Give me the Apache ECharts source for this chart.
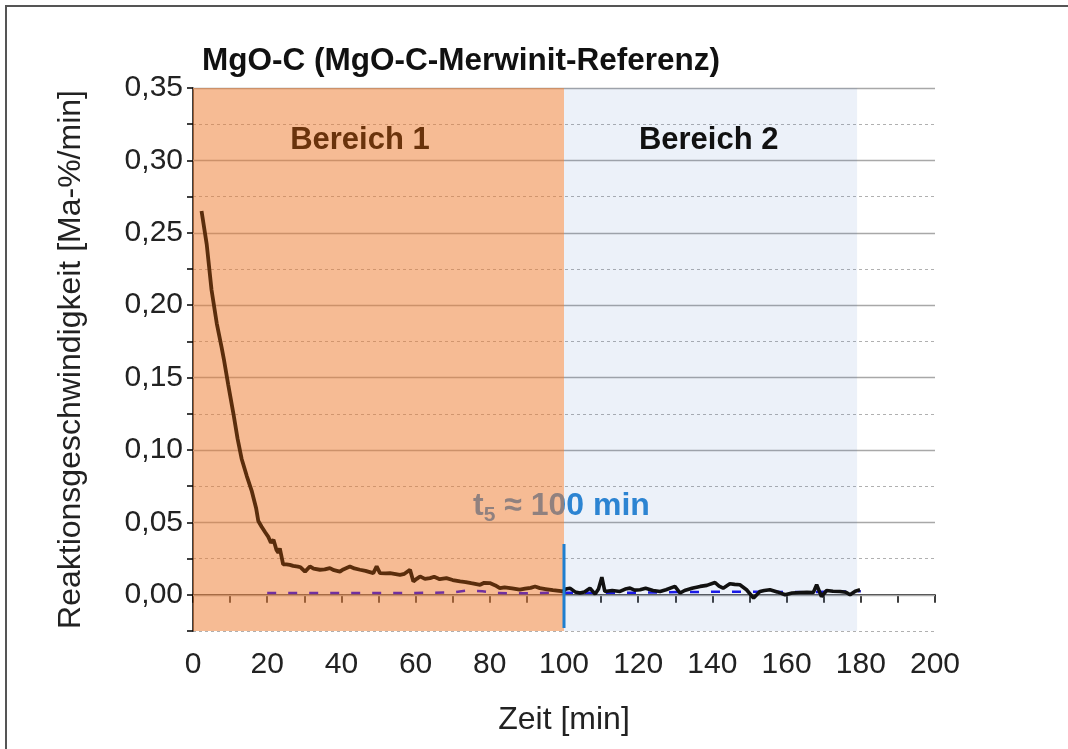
<!DOCTYPE html>
<html><head><meta charset="utf-8">
<script src="https://cdn.jsdelivr.net/npm/echarts@6/dist/echarts.min.js"></script>
<style>html,body{margin:0;padding:0;background:#fff}#c{width:1068px;height:749px}</style>
</head><body><div id="c"></div>
<script>
const FONT = "'Liberation Sans', Arial, sans-serif";
// Bereich 1 curve (brown), time [min] / rate [Ma-%/min]
const bereich1 = [[2.3,0.265],[3.7,0.242],[5.0,0.2105],[6.4,0.1875],[7.7,0.171],[8.3,0.163],[9.5,0.145],[10.9,0.125],[12,0.108],[13.1,0.094],[14.5,0.082],[15.8,0.072],[17,0.060],[17.6,0.051],[18.5,0.047],[19.5,0.043],[20.3,0.040],[21.0,0.036],[21.7,0.038],[22.5,0.031],[23.0,0.029],[23.4,0.032],[24.3,0.021],[25.2,0.021],[26.1,0.0207],[27,0.020],[28.3,0.0195],[29,0.019],[30.2,0.016],[31.5,0.0196],[32.5,0.018],[34.2,0.0173],[35.5,0.0175],[36.9,0.0184],[38,0.017],[39.6,0.016],[40.5,0.0175],[42.3,0.0196],[43.5,0.0182],[45,0.0173],[46.5,0.0165],[48.6,0.015],[49.5,0.0196],[50.4,0.015],[52,0.0148],[53.1,0.015],[55.8,0.0138],[57,0.0145],[58.5,0.0173],[59.4,0.0092],[60.3,0.011],[61.2,0.0127],[62.5,0.011],[63.9,0.0115],[65,0.0125],[66.5,0.0108],[68.3,0.0115],[70,0.0102],[72,0.0092],[73.5,0.0088],[75,0.0080],[77.4,0.0069],[78.5,0.0083],[80,0.0081],[81.5,0.0065],[82.7,0.0046],[84,0.0052],[86,0.0045],[88.1,0.0035],[89.5,0.0042],[91,0.0048],[92.2,0.0057],[93.5,0.0046],[95,0.0040],[97,0.0032],[99.8,0.0023]];
// Bereich 2 curve (black)
const bereich2 = [[99.8,0.0023],[100.5,0.004],[101.6,0.0046],[103,0.002],[104.3,0.0012],[105.5,0.002],[107,0.0046],[108.4,0.0005],[109.3,0.004],[110.2,0.0122],[111,0.0023],[113,0.003],[115.1,0.0023],[116.5,0.004],[117.8,0.0046],[119,0.0032],[120.5,0.0035],[122,0.0045],[124,0.003],[125.9,0.0023],[127.5,0.0035],[129.9,0.0058],[131.3,0.0012],[132.5,0.003],[134.5,0.0045],[136.7,0.0058],[138.5,0.0065],[140.7,0.0085],[141.8,0.006],[142.9,0.0046],[144.7,0.0076],[146,0.0072],[147.4,0.0069],[149.2,0.0035],[151.1,-0.0023],[152.8,0.0023],[154,0.003],[155.5,0.0035],[157.5,0.002],[159.6,0.0],[161.5,0.0012],[163.6,0.0016],[165.5,0.0018],[167.2,0.0016],[168.1,0.0069],[169.4,-0.0012],[170.8,0.003],[172.5,0.0025],[174.4,0.0023],[176,0.0018],[177.1,0.0],[178.5,0.0025],[179.8,0.0035]];
// fitted baselines (dashed)
const fit1 = [[20,0.0013],[60,0.0013],[70,0.0016],[74,0.003],[78,0.0025],[82,0.0012],[90,0.001],[96,0.0014],[100,0.002]];
const fit2 = [[100,0.0015],[120,0.0015],[135,0.002],[150,0.0022],[165,0.0018],[180,0.0025]];
// t5 marker
const t5Line = [[100,0.035],[100,-0.023]];
const t5Label = [[99.3,0.061]];
// regions
const regions = [{name:'Bereich 1', from:0, to:100}, {name:'Bereich 2', from:100, to:179}];
const regionLabels = [['Bereich 1',45,0.314],['Bereich 2',139,0.314]];
const regionLabelColors = ['#6a330c','#111111'];
// axis ranges / grid values
const xTicks = {min:0, max:200, step:10, labelStep:20};
const yTicks = {min:-0.025, max:0.35, step:0.025, labelStep:0.05};
const yMajorGrid = [0,0.05,0.10,0.15,0.20,0.25,0.30,0.35];

const chart = echarts.init(document.getElementById('c'));
chart.setOption({
  animation:false,
  backgroundColor:'#fff',
  title:{text:'MgO-C (MgO-C-Merwinit-Referenz)', left:197, top:40,
    textStyle:{fontFamily:FONT, fontSize:31.5, fontWeight:'bold', color:'#111'}},
  graphic:[{type:'rect', shape:{x:6,y:6,width:1200,height:900}, style:{fill:null, stroke:'#555', lineWidth:2}, silent:true}],
  grid:{left:193, right:133, top:88, bottom:118},
  xAxis:{type:'value', min:xTicks.min, max:xTicks.max, interval:xTicks.step,
    name:'Zeit [min]', nameLocation:'middle', nameGap:73,
    nameTextStyle:{fontFamily:FONT, fontSize:32, color:'#222'},
    axisLine:{lineStyle:{color:'#000', width:1.5}},
    axisTick:{inside:false, length:8, lineStyle:{color:'#000', width:1.5}},
    axisLabel:{fontFamily:FONT, fontSize:30, color:'#222', margin:19,
      formatter:v=> (Math.round(v)%xTicks.labelStep===0)? String(Math.round(v)) : ''},
    splitLine:{show:false}},
  yAxis:{type:'value', min:yTicks.min, max:yTicks.max, interval:yTicks.step,
    name:'Reaktionsgeschwindigkeit [Ma-%/min]', nameLocation:'middle', nameGap:106,
    nameTextStyle:{fontFamily:FONT, fontSize:32, color:'#222'},
    axisLine:{show:true, lineStyle:{color:'#000', width:1.5}},
    axisTick:{inside:false, length:6, lineStyle:{color:'#000', width:1.5}},
    axisLabel:{fontFamily:FONT, fontSize:30, color:'#222', margin:10,
      formatter:v=>{const k=Math.round(v*1000); return (k>=0 && k%Math.round(yTicks.labelStep*1000)===0)? (k/1000).toFixed(2).replace('.',',') : '';}},
    splitLine:{show:true, lineStyle:{color:'#b0b0b0', width:1, type:[3,3]}}},
  series:[
    {type:'line', name:'grid', data:[], silent:true, z:0.5,
      markLine:{z:0.5, silent:true, symbol:'none', label:{show:false},
        lineStyle:{color:'#a8a8a8', width:1.3, type:'solid'},
        data:yMajorGrid.map(v=>({yAxis:v}))}},
    {type:'scatter', name:'t5', data:t5Label, symbolSize:0, silent:true, z:0.6,
      itemStyle:{opacity:1},
      label:{show:true, position:'inside', color:'#2a86d4',
        formatter:'{a|t}{s|5}{a| ≈ 100 min}',
        rich:{a:{fontFamily:FONT, fontSize:32, fontWeight:'bold', color:'#2a86d4', lineHeight:38},
              s:{fontFamily:FONT, fontSize:21, fontWeight:'bold', color:'#2a86d4', lineHeight:38, padding:[17,0,0,0]}}}},
    {type:'line', name:'bands', data:[], silent:true, z:1,
      markArea:{z:1, silent:true, label:{show:false},
        data:[[{xAxis:regions[0].from, itemStyle:{color:'rgba(237,125,49,0.52)'}},{xAxis:regions[0].to}],
              [{xAxis:regions[1].from, itemStyle:{color:'rgba(68,114,196,0.1)'}},{xAxis:regions[1].to}]]}},
    {type:'line', name:'fit1', data:fit1, showSymbol:false, symbol:'none', z:3,
      lineStyle:{color:'#7030a0', width:2.5, type:[9,12]}},
    {type:'line', name:'fit2', data:fit2, showSymbol:false, symbol:'none', z:3,
      lineStyle:{color:'#1a1ae6', width:2.5, type:[9,12]}},
    {type:'line', name:'Bereich 1', data:bereich1, showSymbol:false, symbol:'none', z:4,
      lineStyle:{color:'#5a2d0c', width:3.8}},
    {type:'line', name:'Bereich 2', data:bereich2, showSymbol:false, symbol:'none', z:4,
      lineStyle:{color:'#111', width:3.6}},
    {type:'line', name:'t5line', data:t5Line, showSymbol:false, symbol:'none', z:5,
      lineStyle:{color:'#1f7fcf', width:3}},
    {type:'scatter', name:'labels', symbolSize:0, silent:true, z:6,
      itemStyle:{opacity:1},
      data:regionLabels.map((r,i)=>({value:[r[1],r[2]], name:r[0],
        label:{show:true, position:'inside', formatter:r[0], color:regionLabelColors[i],
          fontFamily:FONT, fontSize:31, fontWeight:'bold'}})),
      label:{show:true, position:'inside', fontFamily:FONT, fontSize:31, fontWeight:'bold'}}
  ]
});
</script></body></html>
